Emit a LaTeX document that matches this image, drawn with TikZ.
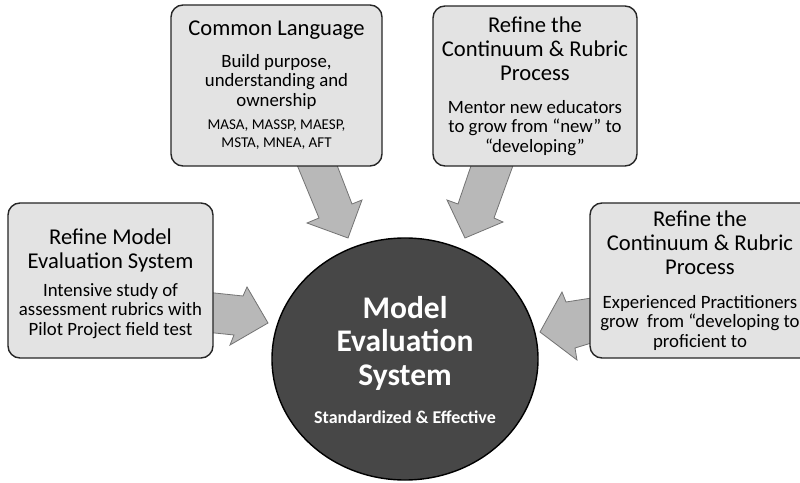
\documentclass[tikz,border=0pt]{standalone}
\usepackage{fontspec}
\setmainfont{Carlito}
\usetikzlibrary{shapes.geometric}
\begin{document}
\begin{tikzpicture}[x=1bp,y=-1bp,
  card/.style={draw=black!85,line width=1.4bp,fill=black!11,rounded corners=12bp,inner sep=0pt},
  blockarrow/.style={draw=black!55,line width=0.8bp,fill=black!28,line join=miter},
  ttl/.style={anchor=north,inner sep=0pt,align=center,font=\fontsize{22.6bp}{24bp}\selectfont},
  bdy/.style={anchor=north,inner sep=0pt,align=center,font=\fontsize{18.8bp}{19.5bp}\selectfont},
  sml/.style={anchor=north,inner sep=0pt,align=center,font=\fontsize{15bp}{18bp}\selectfont},
  hub/.style={draw=black,line width=1.4bp,fill=black!72,ellipse,inner sep=0pt}]
\clip (0,0) rectangle (800,483);
\fill[white] (0,0) rectangle (800,483);
% block arrows (drawn beneath boxes)
\draw[blockarrow] (295,160) -- (335,160) -- (352,204) -- (362,200) -- (348,238) -- (307,223) -- (319,218) -- cycle;
\draw[blockarrow] (473,160) -- (515,160) -- (494,218) -- (503,222) -- (465,238) -- (447,200) -- (458,204) -- cycle;
\draw[blockarrow] (205,292) -- (243,296) -- (247,287) -- (268,323) -- (230,345) -- (234,335) -- (205,332) -- cycle;
\draw[blockarrow] (598,297) -- (566,302) -- (562,292) -- (540,332) -- (577,360) -- (575,348) -- (598,341) -- cycle;
% boxes
\node[card,minimum width=211bp,minimum height=161bp] (lang) at (276.5,85.5) {};
\node[card,minimum width=204bp,minimum height=160bp] (mentor) at (535,86) {};
\node[card,minimum width=205bp,minimum height=155bp] (refine) at (110.5,280.5) {};
\node[card,minimum width=225bp,minimum height=155bp] (exp) at (702.5,280.5) {};
% hub
\node[hub,minimum width=266bp,minimum height=242bp] (hub) at (405,359) {};
% texts
\node[ttl] (langT) at (276.5,21) {Common Language};
\node[bdy] (langB) at (276.5,54) {Build purpose,\\understanding and\\ownership};
\node[sml] (langS) at (276.5,120) {MASA, MASSP, MAESP,\\MSTA, MNEA, AFT};
\node[ttl] (mentorT) at (535,17) {Refine the\\Continuum \& Rubric\\Process};
\node[bdy] (mentorB) at (535,100) {Mentor new educators\\to grow from “new” to\\“developing”};
\node[ttl] (refineT) at (110.5,229) {Refine Model\\Evaluation System};
\node[bdy] (refineB) at (110.5,283) {Intensive study of\\assessment rubrics with\\Pilot Project field test};
\node[ttl] (expT) at (700,211) {Refine the\\Continuum \& Rubric\\Process};
\node[bdy] (expB) at (700,295) {Experienced Practitioners\\grow\ \ from “developing to\\proficient to};
\node[anchor=north,inner sep=0pt,align=center,text=white,font=\fontsize{31.5bp}{33.5bp}\selectfont\bfseries] (hubT) at (405,296) {Model\\Evaluation\\System};
\node[anchor=north,inner sep=0pt,text=white,font=\fontsize{18bp}{19bp}\selectfont\bfseries] (hubS) at (405,410.5) {Standardized \& Effective};
\end{tikzpicture}
\end{document}
